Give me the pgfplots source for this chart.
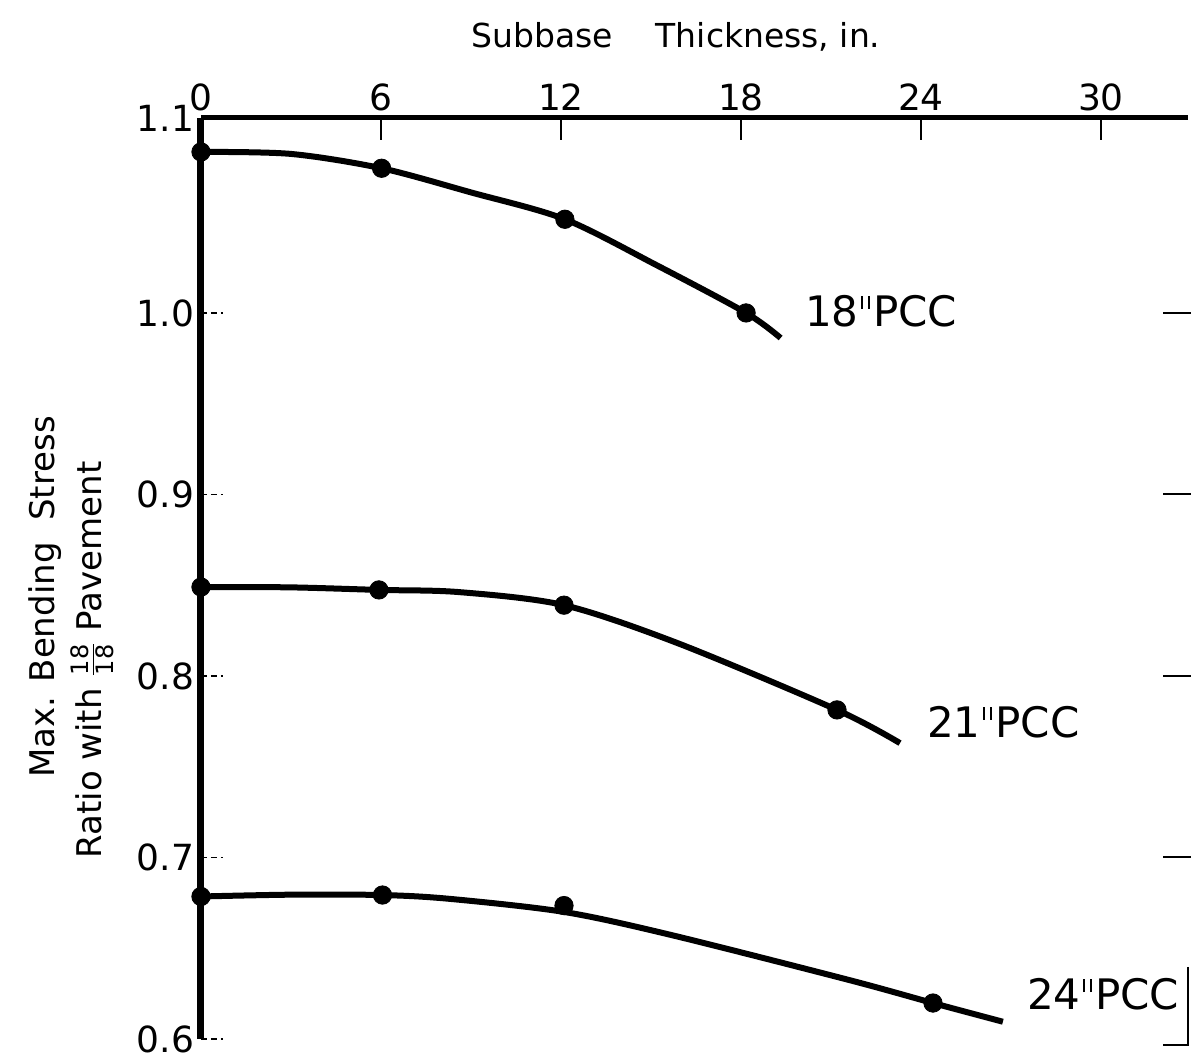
\documentclass[border=0pt]{standalone}
\usepackage{pgfplots}
\pgfplotsset{compat=1.18}
\usepackage{fontspec}
\setmainfont{DejaVu Sans}
\newcommand\inch{\hspace{1.2pt}\raisebox{8.6pt}{\rule{1.1pt}{6.6pt}\hspace{2.4pt}\rule{1.1pt}{6.6pt}}\hspace{1.6pt}}
\pgfplotstableread{
x y
0     1.0887
3.0   1.0876
6.02  1.0797
9.0   1.0664
12.13 1.0516
15.2  1.0262
18.17 1.0000
19.32 0.9862
}\pccA
\pgfplotstableread{
x y
0     1.0887
6.02  1.0797
12.13 1.0516
18.17 1.0000
}\pccAm
\pgfplotstableread{
x y
0     0.8490
3.0   0.8488
5.93  0.8474
8.6   0.8462
12.1  0.8390
15.9  0.8180
21.2  0.7813
23.3  0.7630
}\pccB
\pgfplotstableread{
x y
0     0.8490
5.93  0.8474
12.1  0.8390
21.2  0.7813
}\pccBm
\pgfplotstableread{
x y
0     0.6785
3.0   0.6795
6.05  0.6793
8.29  0.6772
12.1  0.6700
15.67 0.6573
21.6  0.6325
24.4  0.6198
26.73 0.6095
}\pccC
\pgfplotstableread{
x y
0     0.6785
6.05  0.6793
12.1  0.6735
24.4  0.6198
}\pccCm
\begin{document}
\begin{tikzpicture}
\begin{axis}[
  scale only axis, width=493.5pt, height=460.5pt,
  xmin=0, xmax=32.9, ymin=0.6, ymax=1.1074,
  axis x line=top, axis y line=left,
  x axis line style={-, line width=2.5pt},
  y axis line style={-, line width=3.5pt},
  xtick={0,6,12,18,24,30},
  xticklabels={0,6,12,18,24,30},
  ytick={0.6,0.7,0.8,0.9,1.0,1.1074},
  yticklabels={0.6,0.7,0.8,0.9,1.0,1.1},
  tick align=inside,
  major tick length=11pt,
  x tick style={line width=1pt, black},
  y tick style={densely dashed, line width=0.7pt, black},
  x tick label style={font=\fontsize{18}{18}\selectfont},
  y tick label style={font=\fontsize{18}{18}\selectfont},
  clip mode=individual,
]
\addplot[line width=3pt, smooth, no markers] table[x=x,y=y] {\pccA};
\addplot[only marks, mark=*, mark size=4.6pt, black] table[x=x,y=y] {\pccAm};
\addplot[line width=3pt, smooth, no markers] table[x=x,y=y] {\pccB};
\addplot[only marks, mark=*, mark size=4.6pt, black] table[x=x,y=y] {\pccBm};
\addplot[line width=3pt, smooth, no markers] table[x=x,y=y] {\pccC};
\addplot[only marks, mark=*, mark size=4.6pt, black] table[x=x,y=y] {\pccCm};

\node[anchor=west, font=\fontsize{21}{21}\selectfont] at (axis cs:19.9,1.001) {18\inch PCC};
\node[anchor=west, font=\fontsize{21}{21}\selectfont] at (axis cs:23.97,0.7747) {21\inch PCC};
\node[anchor=west, font=\fontsize{21}{21}\selectfont] at (axis cs:27.3,0.6248) {24\inch PCC};

\node[font=\fontsize{16.5}{16.5}\selectfont] at (axis cs:15.83,1.152) {Subbase\hspace{1.3em}Thickness, in.};
\node[rotate=90, font=\fontsize{17}{17}\selectfont] at (axis cs:-5.2,0.8435) {Max. Bending\ \ Stress};
\node[rotate=90, font=\fontsize{17}{17}\selectfont] at (axis cs:-3.63,0.8088) {Ratio with $\frac{\mbox{\fontsize{12}{12}\selectfont 18}}{\mbox{\fontsize{12}{12}\selectfont 18}}$ Pavement};

\draw[line width=1pt] (axis cs:33.0,0.7) -- (axis cs:32.07,0.7);
\draw[line width=1pt] (axis cs:33.0,0.8) -- (axis cs:32.07,0.8);
\draw[line width=1pt] (axis cs:33.0,0.9) -- (axis cs:32.07,0.9);
\draw[line width=1pt] (axis cs:33.0,1.0) -- (axis cs:32.07,1.0);
\draw[line width=1pt] (axis cs:32.9,0.6397) -- (axis cs:32.9,0.5967) -- (axis cs:32.07,0.5967);
\end{axis}
\pgfresetboundingbox
\path[use as bounding box] ([xshift=-100.5pt,yshift=-12pt]current axis.south west) rectangle ([xshift=1.5pt,yshift=59pt]current axis.north east);
\end{tikzpicture}
\end{document}
